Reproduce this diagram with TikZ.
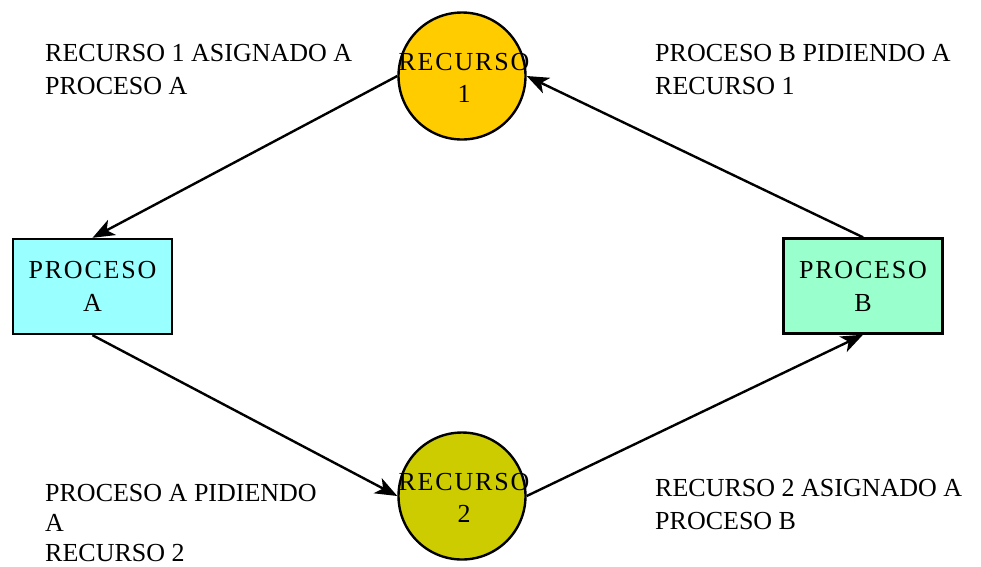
\documentclass[tikz,border=0pt]{standalone}
\usepackage{fontspec}
\setmainfont{Liberation Serif}
\newfontfamily\espaciada{Liberation Serif}[LetterSpace=7]
\usetikzlibrary{positioning, arrows.meta}

\definecolor{recursouno}{HTML}{FFCC00}
\definecolor{recursodos}{HTML}{CCCC00}
\definecolor{procesoa}{HTML}{99FFFF}
\definecolor{procesob}{HTML}{99FFCC}

\begin{document}
\begin{tikzpicture}[
    x=1pt, y=-1pt,
    >={Stealth[length=22pt, width=17pt, inset=6pt]},
    font=\fontsize{26}{33}\selectfont,
    recurso/.style={circle, draw, line width=2.4pt, minimum size=127pt, inner sep=0pt},
    proceso/.style={rectangle, draw, line width=2.4pt, minimum width=159pt, minimum height=95pt,
        inner sep=0pt, align=center, font=\fontsize{26}{33}\espaciada},
    nombre/.style={inner sep=0pt, align=center, font=\fontsize{26}{32}\espaciada},
    etiqueta/.style={anchor=north west, inner sep=0pt, align=left},
    flecha/.style={->, line width=2.4pt}
]

\useasboundingbox (0,0) rectangle (981,566);

% recursos
\node[recurso, fill=recursouno] (rec1) at (462,76) {};
\node[nombre] (rec1txt) at (464,78) {RECURSO\\1};
\node[recurso, fill=recursodos] (rec2) at (462,496) {};
\node[nombre] (rec2txt) at (464,497.5) {RECURSO\\2};

% procesos
\node[proceso, fill=procesoa] (procA) at (92.5,286.5) {PROCESO\\A};
\node[proceso, fill=procesob] (procB) at (863,286) {PROCESO\\B};

% aristas
\draw[flecha] (rec1.west) -- (procA.north);
\draw[flecha] (procA.south) -- (rec2.west);
\draw[flecha] (rec2.east) -- (procB.south);
\draw[flecha] (procB.north) -- (rec1.east);

% textos
\node[etiqueta] (asigna1) at (45,44) {RECURSO 1 ASIGNADO A\\PROCESO A};
\node[etiqueta] (pide1) at (655,44) {PROCESO B PIDIENDO A\\RECURSO 1};
\node[etiqueta, font=\fontsize{26}{30}\selectfont] (pide2) at (45,484) {PROCESO A PIDIENDO\\A\\RECURSO 2};
\node[etiqueta] (asigna2) at (655,479) {RECURSO 2 ASIGNADO A\\PROCESO B};

\end{tikzpicture}
\end{document}
